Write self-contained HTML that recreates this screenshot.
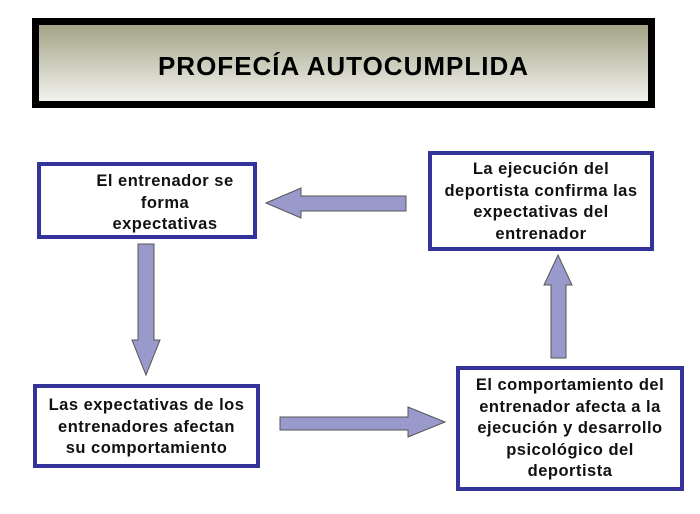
<!DOCTYPE html>
<html><head><meta charset="utf-8"><style>
body{margin:0;width:700px;height:514px;background:#fff;position:relative;overflow:hidden;font-family:"Liberation Sans",sans-serif;}
.t{position:absolute;left:32px;top:18px;width:609px;height:76px;border:7px solid #000;background:linear-gradient(#a3a386,#f3f3ef);}
.t div{position:absolute;left:0;right:0;top:26px;text-align:center;font-weight:bold;font-size:26px;letter-spacing:1px;color:#000;}
.b{position:absolute;border:4px solid #333399;background:#fff;box-sizing:border-box;font-weight:bold;font-size:16.5px;letter-spacing:0.5px;line-height:21.5px;text-align:center;color:#111;white-space:nowrap;}
svg{position:absolute;left:0;top:0;}
</style></head><body>
<div class="t"><div>PROFECÍA AUTOCUMPLIDA</div></div>
<div class="b" style="left:37px;top:162px;width:220px;height:77px;padding:5px 0 0 36px;">El entrenador se<br>forma<br>expectativas</div>
<div class="b" style="left:428px;top:151px;width:226px;height:100px;padding:4px 0 0 0;">La ejecución del<br>deportista confirma las<br>expectativas del<br>entrenador</div>
<div class="b" style="left:33px;top:384px;width:227px;height:84px;padding:7px 0 0 0;">Las expectativas de los<br>entrenadores afectan<br>su comportamiento</div>
<div class="b" style="left:456px;top:366px;width:228px;height:125px;padding:5px 0 0 0;">El comportamiento del<br>entrenador afecta a la<br>ejecución y desarrollo<br>psicológico del<br>deportista</div>
<svg width="700" height="514">
<g fill="#9999cc" stroke="#555" stroke-width="1">
<polygon points="266,203 301,188 301,196 406,196 406,211 301,211 301,218"/>
<polygon points="138,244 154,244 154,340 160,340 146,375 132,340 138,340"/>
<polygon points="280,417 408,417 408,407 445,422 408,437 408,430 280,430"/>
<polygon points="551,358 566,358 566,285 572,285 558,255 544,285 551,285"/>
</g>
</svg>
</body></html>
